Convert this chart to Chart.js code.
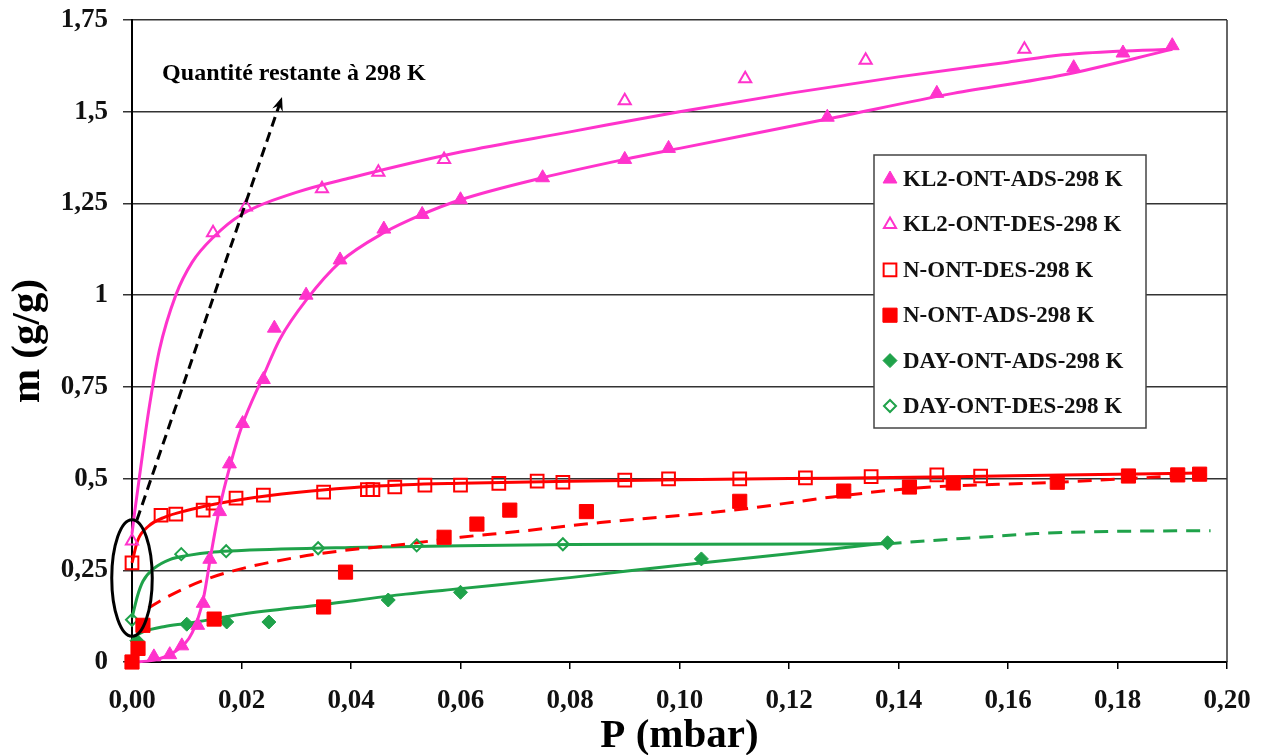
<!DOCTYPE html>
<html>
<head>
<meta charset="utf-8">
<script src="https://cdn.jsdelivr.net/npm/chart.js@4.4.0/dist/chart.umd.min.js"></script>
<style>
  html, body { margin: 0; padding: 0; background: #fff; }
</style>
</head>
<body>
<canvas id="isotherm" width="1262" height="755"></canvas>
<script>
// ==============================
//  données
// ==============================
const xTicks = [0, 0.02, 0.04, 0.06, 0.08, 0.10, 0.12, 0.14, 0.16, 0.18, 0.20];
const yTicks = [0, 0.25, 0.5, 0.75, 1, 1.25, 1.5, 1.75];

// KL2 - adsorption (triangles pleins)
const kl2AdsP = [0.004, 0.0069, 0.0091, 0.012, 0.013, 0.0142, 0.016, 0.0178, 0.0202, 0.024, 0.026, 0.0318, 0.038, 0.046, 0.053, 0.060, 0.075, 0.090, 0.098, 0.127, 0.147, 0.172, 0.181, 0.190];
const kl2AdsM = [0.014, 0.02, 0.044, 0.10, 0.16, 0.28, 0.41, 0.54, 0.65, 0.77, 0.91, 1.0, 1.096, 1.18, 1.22, 1.26, 1.32, 1.37, 1.40, 1.485, 1.55, 1.62, 1.66, 1.68];
// KL2 - désorption (triangles vides)
const kl2DesP = [0, 0.0148, 0.0208, 0.0347, 0.045, 0.057, 0.090, 0.112, 0.134, 0.163];
const kl2DesM = [0.33, 1.17, 1.24, 1.29, 1.335, 1.37, 1.53, 1.59, 1.64, 1.67];
// N - désorption (carrés vides)
const nDesP = [0, 0.0053, 0.008, 0.013, 0.0148, 0.019, 0.024, 0.035, 0.043, 0.044, 0.048, 0.0535, 0.060, 0.067, 0.074, 0.0787, 0.090, 0.098, 0.111, 0.123, 0.135, 0.147, 0.155];
const nDesM = [0.27, 0.40, 0.403, 0.414, 0.433, 0.447, 0.455, 0.463, 0.47, 0.47, 0.477, 0.482, 0.482, 0.487, 0.493, 0.49, 0.496, 0.499, 0.499, 0.502, 0.505, 0.51, 0.507];
// N - adsorption (carrés pleins)
const nAdsP = [0, 0.0011, 0.002, 0.015, 0.035, 0.039, 0.057, 0.063, 0.069, 0.083, 0.111, 0.130, 0.142, 0.150, 0.169, 0.182, 0.191, 0.195];
const nAdsM = [0, 0.037, 0.10, 0.117, 0.15, 0.245, 0.34, 0.376, 0.414, 0.41, 0.438, 0.466, 0.477, 0.488, 0.49, 0.507, 0.51, 0.512];
// DAY - adsorption (losanges pleins)
const dayAdsP = [0, 0.0009, 0.010, 0.0173, 0.025, 0.0468, 0.060, 0.104, 0.138];
const dayAdsM = [0, 0.058, 0.103, 0.109, 0.109, 0.169, 0.19, 0.281, 0.325];
// DAY - désorption (losanges vides)
const dayDesP = [0, 0.009, 0.0172, 0.034, 0.052, 0.0787];
const dayDesM = [0.115, 0.294, 0.302, 0.31, 0.318, 0.321];

// courbes tracées à la main sur la figure
const kl2AdsFitP = [0, 0.004, 0.008, 0.011, 0.013, 0.0145, 0.016, 0.018, 0.020, 0.024, 0.027, 0.032, 0.038, 0.046, 0.053, 0.060, 0.075, 0.090, 0.100, 0.127, 0.150, 0.170, 0.190];
const kl2AdsFitM = [0, 0.005, 0.03, 0.08, 0.17, 0.30, 0.42, 0.54, 0.64, 0.78, 0.88, 0.99, 1.09, 1.17, 1.22, 1.26, 1.32, 1.37, 1.40, 1.48, 1.55, 1.60, 1.67];
const kl2DesFitP = [0, 0.0005, 0.0015, 0.003, 0.005, 0.008, 0.011, 0.015, 0.020, 0.030, 0.040, 0.060, 0.080, 0.100, 0.120, 0.140, 0.160, 0.170, 0.180, 0.190];
const kl2DesFitM = [0.35, 0.41, 0.52, 0.68, 0.85, 1.0, 1.09, 1.16, 1.22, 1.28, 1.32, 1.39, 1.445, 1.50, 1.55, 1.595, 1.635, 1.655, 1.665, 1.67];
const nDesFitP = [0, 0.001, 0.003, 0.006, 0.010, 0.015, 0.020, 0.030, 0.040, 0.050, 0.060, 0.080, 0.100, 0.120, 0.150, 0.170, 0.195];
const nDesFitM = [0.27, 0.33, 0.37, 0.395, 0.413, 0.43, 0.443, 0.462, 0.475, 0.483, 0.487, 0.493, 0.497, 0.50, 0.505, 0.51, 0.515];
const nAdsFitP = [0.003, 0.0064, 0.0142, 0.0307, 0.052, 0.060, 0.070, 0.0855, 0.110, 0.128, 0.143, 0.169, 0.197];
const nAdsFitM = [0.147, 0.177, 0.229, 0.287, 0.325, 0.34, 0.355, 0.38, 0.414, 0.45, 0.474, 0.49, 0.512];
const dayAdsFitP = [0, 0.002, 0.006, 0.010, 0.020, 0.035, 0.050, 0.060, 0.080, 0.100, 0.120, 0.138];
const dayAdsFitM = [0.065, 0.082, 0.097, 0.105, 0.13, 0.157, 0.185, 0.20, 0.23, 0.264, 0.295, 0.325];
const dayDesFitP = [0, 0.001, 0.002, 0.004, 0.007, 0.010, 0.015, 0.020, 0.040, 0.060, 0.080, 0.100, 0.138];
const dayDesFitM = [0.12, 0.18, 0.22, 0.255, 0.28, 0.29, 0.30, 0.304, 0.312, 0.317, 0.32, 0.321, 0.322];
const dayExtP = [0.138, 0.145, 0.155, 0.165, 0.175, 0.185, 0.197];
const dayExtM = [0.322, 0.33, 0.34, 0.35, 0.355, 0.357, 0.358];

// annotation : ellipse + flèche
const ellipseP = 0, ellipseHalfP = 0.0037, ellipseLow = 0.07, ellipseHigh = 0.388;
const arrowFrom = [0.0009, 0.387], arrowTo = [0.0274, 1.54];
const noteText = "Quantité restante à 298 K", notePos = [0.0055, 1.586];

const PINK = "#FF33CC", RED = "#FF0000", GREEN = "#1FA24A";
const FONT = "'Liberation Serif', 'Times New Roman', serif";

const pts = (P, M) => P.map((p, i) => ({ x: p, y: M[i] }));
const fmt = v => String(v).replace(".", ",");

// ==============================
//  datasets
// ==============================
const markers = (label, P, M, color, style, radius, filled) => ({
  label, data: pts(P, M), showLine: false, clip: false,
  pointStyle: style, pointRadius: radius, pointHoverRadius: radius,
  pointBorderColor: color, pointBorderWidth: filled ? 1 : 2,
  pointBackgroundColor: filled ? color : "rgba(255,255,255,0)",
  legend: true
});
const curve = (P, M, color, dash) => ({
  label: "", data: pts(P, M), showLine: true, pointRadius: 0, clip: false,
  borderColor: color, borderWidth: 3, borderDash: dash || [],
  cubicInterpolationMode: "monotone", legend: false
});

const datasets = [
  markers("KL2-ONT-ADS-298 K", kl2AdsP, kl2AdsM, PINK, "triangle", 8, true),
  markers("KL2-ONT-DES-298 K", kl2DesP, kl2DesM, PINK, "triangle", 7, false),
  markers("N-ONT-DES-298 K", nDesP, nDesM, RED, "rect", 9, false),
  markers("N-ONT-ADS-298 K", nAdsP, nAdsM, RED, "rect", 10, true),
  markers("DAY-ONT-ADS-298 K", dayAdsP, dayAdsM, GREEN, "rectRot", 7, true),
  markers("DAY-ONT-DES-298 K", dayDesP, dayDesM, GREEN, "rectRot", 6, false),
  curve(kl2AdsFitP, kl2AdsFitM, PINK),
  curve(kl2DesFitP, kl2DesFitM, PINK),
  curve(nDesFitP, nDesFitM, RED),
  curve(nAdsFitP, nAdsFitM, RED, [14, 9]),
  curve(dayAdsFitP, dayAdsFitM, GREEN),
  curve(dayDesFitP, dayDesFitM, GREEN),
  curve(dayExtP, dayExtM, GREEN, [14, 9])
];

// ==============================
//  décor : cadre, ellipse, flèche, légende
// ==============================
const decor = {
  id: "decor",
  afterDatasetsDraw(chart) {
    const { ctx, chartArea: a, scales: { x, y } } = chart;
    ctx.save();

    // bord droit
    ctx.strokeStyle = "#333";
    ctx.lineWidth = 1.5;
    ctx.beginPath();
    ctx.moveTo(a.right, a.top);
    ctx.lineTo(a.right, a.bottom);
    ctx.stroke();

    // ellipse
    const cx = x.getPixelForValue(ellipseP);
    const rx = x.getPixelForValue(ellipseHalfP) - x.getPixelForValue(0);
    const yTop = y.getPixelForValue(ellipseHigh), yBot = y.getPixelForValue(ellipseLow);
    ctx.strokeStyle = "#000";
    ctx.lineWidth = 3;
    ctx.beginPath();
    ctx.ellipse(cx, (yTop + yBot) / 2, rx, (yBot - yTop) / 2, 0, 0, Math.PI * 2);
    ctx.stroke();

    // flèche en pointillés
    const x1 = x.getPixelForValue(arrowFrom[0]), y1 = y.getPixelForValue(arrowFrom[1]);
    const x2 = x.getPixelForValue(arrowTo[0]), y2 = y.getPixelForValue(arrowTo[1]);
    const ang = Math.atan2(y2 - y1, x2 - x1);
    ctx.setLineDash([10, 6]);
    ctx.beginPath();
    ctx.moveTo(x1, y1);
    ctx.lineTo(x2 - 8 * Math.cos(ang), y2 - 8 * Math.sin(ang));
    ctx.stroke();
    ctx.setLineDash([]);
    ctx.fillStyle = "#000";
    ctx.beginPath();
    ctx.moveTo(x2, y2);
    ctx.lineTo(x2 - 15 * Math.cos(ang - 0.38), y2 - 15 * Math.sin(ang - 0.38));
    ctx.lineTo(x2 - 9 * Math.cos(ang), y2 - 9 * Math.sin(ang));
    ctx.lineTo(x2 - 15 * Math.cos(ang + 0.38), y2 - 15 * Math.sin(ang + 0.38));
    ctx.closePath();
    ctx.fill();

    // texte
    ctx.font = "bold 24px " + FONT;
    ctx.textBaseline = "alphabetic";
    ctx.textAlign = "left";
    ctx.fillText(noteText, x.getPixelForValue(notePos[0]), y.getPixelForValue(notePos[1]));

    // légende
    const items = chart.data.datasets.filter(d => d.legend);
    const bx = 874, by = 155, bw = 272, bh = 273, step = 45.4;
    ctx.fillStyle = "#fff";
    ctx.fillRect(bx, by, bw, bh);
    ctx.strokeStyle = "#444";
    ctx.lineWidth = 1.5;
    ctx.strokeRect(bx, by, bw, bh);
    ctx.font = "bold 23px " + FONT;
    ctx.textBaseline = "middle";
    items.forEach((d, i) => {
      const iy = by + 24 + i * step;
      ctx.fillStyle = d.pointBackgroundColor;
      ctx.strokeStyle = d.pointBorderColor;
      ctx.lineWidth = d.pointBorderWidth;
      Chart.helpers.drawPoint(ctx, { pointStyle: d.pointStyle, radius: d.pointRadius, rotation: 0, borderWidth: d.pointBorderWidth }, 890, iy);
      ctx.fillStyle = "#111";
      ctx.fillText(d.label, 903, iy + 1);
    });
    ctx.restore();
  }
};

// ==============================
//  graphique
// ==============================
new Chart(document.getElementById("isotherm"), {
  type: "scatter",
  data: { datasets },
  options: {
    responsive: false,
    animation: false,
    layout: { padding: { top: 20, right: 35, left: 0, bottom: 0 } },
    plugins: { legend: { display: false }, tooltip: { enabled: false } },
    scales: {
      x: {
        type: "linear", min: 0, max: 0.2,
        afterFit: s => { s.height = 93; s.paddingLeft = 0; s.paddingRight = 0; },
        afterBuildTicks: s => { s.ticks = xTicks.map(v => ({ value: v })); },
        ticks: {
          color: "#111", padding: 16,
          font: { family: FONT, size: 27, weight: "bold" },
          callback: v => v.toFixed(2).replace(".", ",")
        },
        grid: { drawOnChartArea: false, drawTicks: true, tickLength: 7, color: "#000", lineWidth: 1.5 },
        border: { color: "#000", width: 2 },
        title: {
          display: true, text: "P (mbar)", color: "#000",
          font: { family: FONT, size: 41, weight: "bold", lineHeight: 0.9 },
          padding: { top: 0, bottom: 0 }
        }
      },
      y: {
        type: "linear", min: 0, max: 1.75,
        afterFit: s => { s.width = 132; s.paddingTop = 0; s.paddingBottom = 0; },
        afterBuildTicks: s => { s.ticks = yTicks.map(v => ({ value: v })); },
        ticks: {
          color: "#111", padding: 15,
          font: { family: FONT, size: 27, weight: "bold" },
          callback: v => fmt(v)
        },
        grid: { drawTicks: true, tickLength: 9, color: "#333", lineWidth: 1.5 },
        border: { color: "#000", width: 2 },
        title: {
          display: true, text: "m (g/g)", color: "#000",
          font: { family: FONT, size: 41, weight: "bold", lineHeight: 1 },
          padding: { top: 8, bottom: 0 }
        }
      }
    }
  },
  plugins: [decor]
});
</script>
</body>
</html>
